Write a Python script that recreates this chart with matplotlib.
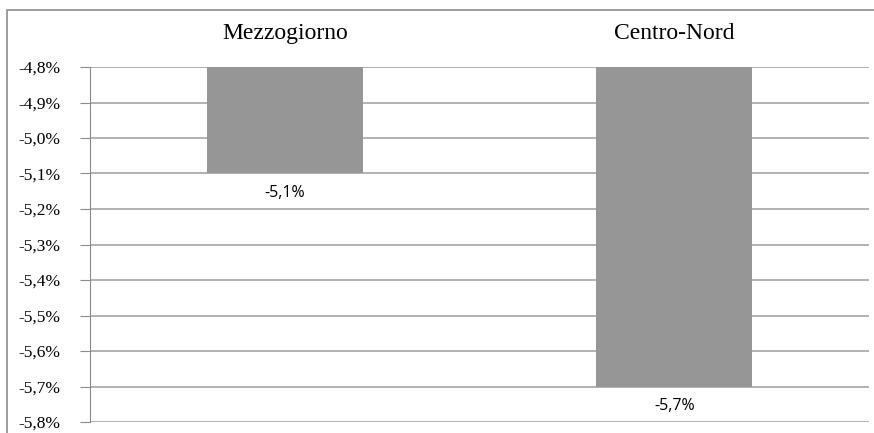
import matplotlib.pyplot as plt
from matplotlib.patches import Rectangle

# data
categories = ["Mezzogiorno", "Centro-Nord"]
values = [-5.1, -5.7]
labels = ["-5,1%", "-5,7%"]
yticks = [-4.8, -4.9, -5.0, -5.1, -5.2, -5.3, -5.4, -5.5, -5.6, -5.7, -5.8]

fig = plt.figure(figsize=(8.74, 4.33), dpi=100)
ax = fig.add_axes([90 / 874, 1 - 422 / 433, 779 / 874, (422 - 67) / 433])

# outer frame of the chart
fig.patches.append(Rectangle((7 / 874, -0.1), 1.2, 1 - 10 / 433 + 0.1,
                             transform=fig.transFigure, fill=False,
                             edgecolor="#8c8c8c", linewidth=1.2))

top = -4.8
x = range(len(categories))
ax.bar(x, [v - top for v in values], bottom=top, width=0.4,
       color="#969696", zorder=3)

ax.set_xlim(-0.5, 1.5)
ax.set_ylim(-5.8, -4.8)
ax.set_yticks(yticks)
ax.set_yticklabels([f"{t:.1f}%".replace(".", ",") for t in yticks],
                   fontfamily="Liberation Serif", fontsize=12.5)
ax.tick_params(axis="y", length=7, color="#8c8c8c", pad=14)
ax.set_xticks([])
ax.grid(axis="y", color="#a6a6a6", linewidth=1.2, zorder=0)

for s in ["top", "right", "bottom"]:
    ax.spines[s].set_visible(False)
ax.spines["left"].set_color("#8c8c8c")

# category names above the plot
for i, c in enumerate(categories):
    ax.text(i, -4.8 + 0.095, c, ha="center", va="center",
            fontfamily="Liberation Serif", fontsize=17)

# data labels under bars
for i, (v, l) in enumerate(zip(values, labels)):
    ax.text(i, v - 0.055, l, ha="center", va="center",
            fontfamily="Open Sans", fontsize=11.5)

fig.savefig("out.png", dpi=100)
